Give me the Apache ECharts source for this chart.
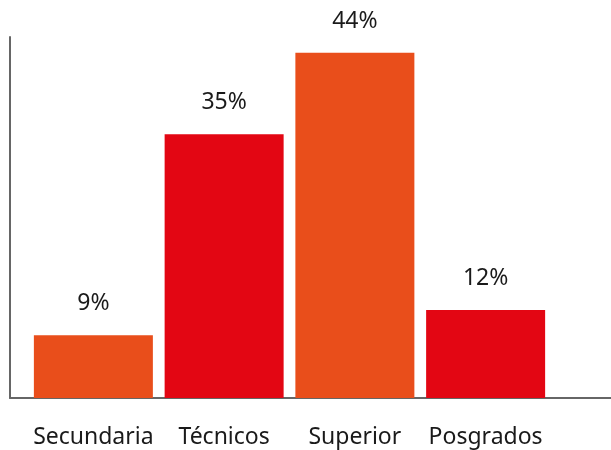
<!DOCTYPE html>
<html>
<head>
<meta charset="utf-8">
<script src="https://cdn.jsdelivr.net/npm/echarts@6/dist/echarts.min.js"></script>
<style>
  html, body { margin: 0; padding: 0; background: #fff; }
  #main { width: 611px; height: 450px; }
</style>
</head>
<body>
<div id="main"></div>
<script>
// datos
const categories = ['Secundaria', 'Técnicos', 'Superior', 'Posgrados'];
const values = [8.0, 33.6, 44, 11.2];
const labels = ['9%', '35%', '44%', '12%'];
const colors = ['#E94E1B', '#E30613', '#E94E1B', '#E30613'];

const font = '"Noto Sans", sans-serif';

let chart = echarts.init(document.getElementById('main'));

let option = {
    animation: false,
    grid: [
        // barras
        { left: 28, right: 60, top: 37, bottom: 52 },
        // solo lineas de ejes
        { left: 10, right: 0, top: 37, bottom: 52 }
    ],
    xAxis: [
        {
            type: 'category',
            gridIndex: 0,
            data: categories,
            axisLine: { show: false },
            axisTick: { show: false },
            axisLabel: {
                interval: 0,
                margin: 28,
                fontSize: 23,
                color: '#1a1a1a',
                fontFamily: font
            }
        },
        {
            type: 'value',
            gridIndex: 1,
            min: 0,
            max: 1,
            axisLine: { show: true, onZero: false, lineStyle: { color: '#666', width: 2 } },
            axisTick: { show: false },
            axisLabel: { show: false },
            splitLine: { show: false }
        }
    ],
    yAxis: [
        {
            type: 'value',
            gridIndex: 0,
            min: 0,
            max: 46,
            show: false
        },
        {
            type: 'value',
            gridIndex: 1,
            min: 0,
            max: 1,
            axisLine: { show: true, onZero: false, lineStyle: { color: '#666', width: 2 } },
            axisTick: { show: false },
            axisLabel: { show: false },
            splitLine: { show: false }
        }
    ],
    series: [{
        type: 'bar',
        xAxisIndex: 0,
        yAxisIndex: 0,
        barWidth: 119,
        z: 3,
        data: values.map((v, i) => ({ value: v, itemStyle: { color: colors[i] } })),
        label: {
            show: true,
            position: 'top',
            distance: 20,
            fontSize: 23,
            color: '#1a1a1a',
            fontFamily: font,
            formatter: p => labels[p.dataIndex]
        }
    }]
};

chart.setOption(option);
</script>
</body>
</html>
